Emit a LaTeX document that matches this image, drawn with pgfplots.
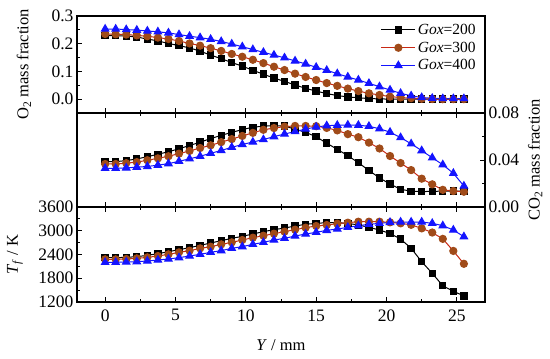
\documentclass[border=0pt]{standalone}
\usepackage{pgfplots}
\usepackage{pgfplotstable}
\pgfplotsset{compat=1.18}
\usepackage{fontspec}
\setmainfont{Liberation Serif}
\definecolor{redline}{RGB}{200,40,20}
\definecolor{brownm}{RGB}{160,75,25}
\definecolor{blueline}{RGB}{20,20,255}

\pgfplotstableread{
x a b c
0 0.230 0.235 0.253
0.75 0.229 0.234 0.253
1.5 0.228 0.233 0.251
2.25 0.224 0.230 0.249
3 0.217 0.227 0.246
3.75 0.210 0.222 0.243
4.5 0.201 0.217 0.239
5.25 0.193 0.210 0.233
6 0.185 0.201 0.227
6.75 0.173 0.193 0.222
7.5 0.159 0.184 0.216
8.25 0.146 0.174 0.208
9 0.132 0.163 0.199
9.75 0.119 0.153 0.189
10.5 0.104 0.142 0.179
11.25 0.090 0.130 0.169
12 0.076 0.117 0.159
12.75 0.064 0.105 0.149
13.5 0.051 0.092 0.138
14.25 0.039 0.080 0.127
15 0.029 0.069 0.115
15.75 0.020 0.058 0.104
16.5 0.013 0.048 0.092
17.25 0.008 0.038 0.080
18 0.005 0.029 0.069
18.75 0.002 0.021 0.057
19.5 0.001 0.015 0.045
20.25 0.000 0.009 0.033
21 0.000 0.006 0.021
21.75 0.000 0.0035 0.012
22.5 0.000 0.0015 0.006
23.25 0.000 0.0005 0.003
24 0.000 0.000 0.002
24.75 0.000 0.000 0.002
25.5 0.000 0.000 0.002
}\topdata

\pgfplotstableread{
x a b c
0 0.0386 0.0366 0.0329
0.75 0.0386 0.0366 0.0329
1.5 0.0395 0.0373 0.0333
2.25 0.0409 0.0382 0.0339
3 0.0428 0.0398 0.0345
3.75 0.0449 0.0414 0.0356
4.5 0.0470 0.0432 0.0369
5.25 0.0496 0.0454 0.0389
6 0.0523 0.0477 0.0410
6.75 0.0552 0.0502 0.0432
7.5 0.0582 0.0525 0.0457
8.25 0.0610 0.0552 0.0481
9 0.0635 0.0578 0.0508
9.75 0.0659 0.0605 0.0532
10.5 0.0679 0.0631 0.0553
11.25 0.0688 0.0657 0.0574
12 0.0692 0.0672 0.0599
12.75 0.0688 0.0684 0.0621
13.5 0.0663 0.0690 0.0642
14.25 0.0635 0.0690 0.0663
15 0.0598 0.0688 0.0681
15.75 0.0543 0.0673 0.0692
16.5 0.0491 0.0652 0.0696
17.25 0.0437 0.0620 0.0698
18 0.0377 0.0594 0.0696
18.75 0.0311 0.0548 0.0687
19.5 0.0248 0.0498 0.0666
20.25 0.0195 0.0434 0.0637
21 0.0151 0.0374 0.0591
21.75 0.0134 0.0314 0.0538
22.5 0.0131 0.0241 0.0480
23.25 0.0133 0.0193 0.0419
24 0.0135 0.0146 0.0360
24.75 0.0136 0.0136 0.0287
25.5 0.0136 0.0130 0.0179
}\middata

\pgfplotstableread{
x a b c
0 2320 2278 2202
0.75 2320 2278 2202
1.5 2328 2286 2210
2.25 2345 2303 2219
3 2379 2328 2236
3.75 2421 2362 2261
4.5 2471 2404 2286
5.25 2522 2454 2320
6 2572 2496 2362
6.75 2631 2555 2404
7.5 2690 2597 2455
8.25 2749 2656 2497
9 2808 2707 2556
9.75 2859 2766 2598
10.5 2918 2825 2657
11.25 2977 2875 2707
12 3027 2926 2766
12.75 3069 2977 2808
13.5 3120 3027 2867
14.25 3162 3078 2918
15 3187 3120 2960
15.75 3204 3145 3010
16.5 3204 3179 3044
17.25 3187 3204 3086
18 3145 3229 3128
18.75 3086 3229 3162
19.5 3019 3229 3187
20.25 2930 3212 3212
21 2790 3187 3221
21.75 2556 3150 3221
22.5 2219 3060 3221
23.25 1925 2955 3187
24 1610 2795 3128
24.75 1470 2490 3019
25.5 1355 2165 2850
}\botdata

\pgfplotsset{
  panel/.style={
    scale only axis, width=408pt,
    xmin=-2, xmax=27,
    xtick={0,5,...,25}, minor x tick num=1,
    tick align=inside,
    axis line style={line width=1.1pt},
    every tick/.style={black, line width=0.8pt},
    major tick length=5pt, minor tick length=3pt,
    tick label style={font=\fontsize{17.5}{18}\selectfont},
    /pgf/number format/assume math mode=true,
    scaled y ticks=false,
  },
  sA/.style={black, line width=1pt, mark=square*, mark size=3.2pt, mark options={solid, fill=black}},
  sB/.style={redline, line width=1pt, mark=*, mark size=3.6pt, mark options={solid, fill=brownm, draw=brownm}},
  sC/.style={blueline, line width=1pt, mark=triangle*, mark size=4.3pt, mark options={solid, fill=blueline}},
}

\begin{document}
\begin{tikzpicture}[x=1pt,y=1pt]
\path (0,0) rectangle (550,359);

% top panel
\begin{axis}[panel, at={(77pt,246pt)}, anchor=south west, height=97pt,
  ymin=-0.05, ymax=0.3, ytick={0,0.1,0.2,0.3}, minor y tick num=1,
  xtick pos=bottom, ytick pos=left, xticklabels={},
  yticklabel style={/pgf/number format/fixed, /pgf/number format/fixed zerofill, /pgf/number format/precision=1},
  ylabel={O\textsubscript{2} mass fraction},
  every axis y label/.style={at={(axis description cs:-0.13,0.5)}, rotate=90, anchor=center, font=\fontsize{16.5}{17}\selectfont},
  legend style={at={(rel axis cs:0.985,0.95)}, anchor=north east, draw=none, fill=none,
    font=\fontsize{15.5}{16}\selectfont, row sep=2pt, inner sep=1pt},
  legend cell align=left,
  legend image code/.code={\draw[mark repeat=2,mark phase=2] plot coordinates {(0pt,0pt) (17pt,0pt) (34pt,0pt)};},
]
\addplot[sA] table[x=x,y=a] {\topdata};
\addplot[sB] table[x=x,y=b] {\topdata};
\addplot[sC] table[x=x,y=c] {\topdata};
\legend{\textit{Gox}=200, \textit{Gox}=300, \textit{Gox}=400}
\end{axis}

% middle panel
\begin{axis}[panel, at={(77pt,152pt)}, anchor=south west, height=94pt,
  ymin=0, ymax=0.08, ytick={0,0.04,0.08}, minor y tick num=1,
  xtick pos=both, ytick pos=right, yticklabel pos=right, xticklabels={},
  yticklabel style={/pgf/number format/fixed, /pgf/number format/fixed zerofill, /pgf/number format/precision=2},
  ylabel={CO\textsubscript{2} mass fraction},
  every axis y label/.style={at={(axis description cs:1.123,0.5)}, rotate=90, anchor=center, font=\fontsize{16.5}{17}\selectfont},
]
\addplot[sA] table[x=x,y=a] {\middata};
\addplot[sB] table[x=x,y=b] {\middata};
\addplot[sC] table[x=x,y=c] {\middata};
\end{axis}

% bottom panel
\begin{axis}[panel, at={(77pt,57pt)}, anchor=south west, height=95pt,
  ymin=1200, ymax=3600, ytick={1200,1800,...,3600}, minor y tick num=1,
  xtick pos=both, ytick pos=left,
  xticklabel style={yshift=-4pt},
  yticklabel style={/pgf/number format/1000 sep={}},
  xlabel={\textit{Y} / mm},
  ylabel={\textit{T}\textsubscript{\textit{f}} / K},
  every axis x label/.style={at={(axis description cs:0.5,-0.45)}, anchor=center, font=\fontsize{16.5}{17}\selectfont},
  every axis y label/.style={at={(axis description cs:-0.152,0.5)}, rotate=90, anchor=center, font=\fontsize{16.5}{17}\selectfont},
]
\addplot[sA] table[x=x,y=a] {\botdata};
\addplot[sB] table[x=x,y=b] {\botdata};
\addplot[sC] table[x=x,y=c] {\botdata};
\end{axis}
\end{tikzpicture}
\end{document}
